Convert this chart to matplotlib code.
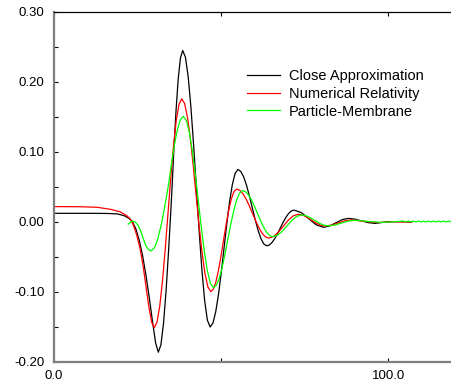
import matplotlib
matplotlib.use("Agg")
import matplotlib.pyplot as plt

plt.rcParams['font.family'] = ['Liberation Sans', 'DejaVu Sans']

# ---- data ----
close_x = [0, 10, 16, 19, 21, 22.5, 23.5, 24.5, 25.5, 26.5, 27.5, 28.5, 29.4, 30.4, 31.2,
           31.98, 32.76, 33.54, 34.32, 35.1, 35.78, 36.46, 37.14, 37.82, 38.5,
           39.32, 40.14, 40.96, 41.78, 42.6, 43.42, 44.24, 45.06, 45.88, 46.7,
           47.53, 48.36, 49.19, 50.02, 50.85, 51.68, 52.51, 53.34, 54.17, 55.0,
           55.86, 56.72, 57.58, 58.44, 59.3, 60.16, 61.02, 61.88, 62.74, 63.6,
           64.42, 65.24, 66.06, 66.88, 67.7, 68.52, 69.34, 70.16, 70.98, 71.8,
           74.0, 76.2, 78.4, 80.6, 82.45, 84.3, 86.15, 88.0, 90.0, 92.0, 94.0, 96.0,
           100.0, 104.0, 107.0]
close_y = [0.0124, 0.0124, 0.0122, 0.0115, 0.009, 0.005, 0.0, -0.010, -0.026, -0.048, -0.076, -0.108, -0.140, -0.173, -0.186,
           -0.1754, -0.1448, -0.0972, -0.0371, 0.0295, 0.0961, 0.1562, 0.2038, 0.2344, 0.245,
           0.2353, 0.2073, 0.1636, 0.1085, 0.0475, -0.0135, -0.0686, -0.1123, -0.1403, -0.150,
           -0.1445, -0.1285, -0.1037, -0.0723, -0.0375, -0.0027, 0.0287, 0.0535, 0.0695, 0.075,
           0.0723, 0.0646, 0.0525, 0.0373, 0.0205, 0.0037, -0.0115, -0.0236, -0.0313, -0.034,
           -0.0328, -0.0291, -0.0235, -0.0164, -0.0085, -0.0006, 0.0065, 0.0121, 0.0158, 0.017,
           0.0134, 0.0047, -0.004, -0.0076, -0.0057, -0.0012, 0.0033, 0.0052, 0.0041, 0.0016, -0.0009, -0.002,
           0.0005, 0.0005, 0.0]

numrel_x = [0, 8, 13, 17, 19.7, 21.5, 22.7, 23.7, 24.7, 25.7, 26.7, 27.6, 28.4, 29.2, 30.0,
            30.82, 31.64, 32.46, 33.28, 34.1, 34.92, 35.74, 36.56, 37.38, 38.2,
            39.06, 39.92, 40.78, 41.64, 42.5, 43.38, 44.26, 45.14, 46.02, 46.9,
            47.66, 48.42, 49.18, 49.94, 50.7, 51.48, 52.26, 53.04, 53.82, 54.6,
            55.56, 56.52, 57.48, 58.44, 59.4, 60.36, 61.32, 62.28, 63.24, 64.2,
            65.67, 67.13, 68.6, 70.07, 71.53, 73.0,
            74.33, 75.67, 77.0, 78.37, 79.73, 81.1,
            83.05, 85.0, 87.0, 89.0, 93.0, 97.0, 101.0, 104.0, 107.0]
numrel_y = [0.022, 0.0218, 0.021, 0.018, 0.0147, 0.010, 0.005, -0.004, -0.018, -0.037, -0.064, -0.095, -0.122, -0.143, -0.151,
            -0.143, -0.1198, -0.0836, -0.038, 0.0125, 0.0630, 0.1086, 0.1448, 0.168, 0.176,
            0.1693, 0.1497, 0.1193, 0.0809, 0.0383, -0.0043, -0.0427, -0.0732, -0.0927, -0.0995,
            -0.0959, -0.0855, -0.0693, -0.0489, -0.0263, -0.0037, 0.0168, 0.0330, 0.0434, 0.047,
            0.0453, 0.0403, 0.0326, 0.0228, 0.012, 0.0012, -0.0086, -0.0163, -0.0213, -0.023,
            -0.0207, -0.0145, -0.006, 0.0025, 0.0087, 0.011,
            0.0099, 0.0068, 0.0027, -0.0015, -0.0046, -0.0057,
            -0.0044, -0.0014, 0.0017, 0.003, 0.0008, -0.0008, 0.0003, 0.0, 0.0]

membrane_x = [22.2, 22.8, 23.5, 24.3, 25.2, 26.0, 26.8, 27.5, 28.2, 29.0,
              30.06, 31.12, 32.18, 33.24, 34.3, 35.18, 36.06, 36.94, 37.82, 38.7,
              39.6, 40.5, 41.4, 42.3, 43.2, 44.1, 45.0, 45.9, 46.8, 47.7,
              48.56, 49.42, 50.28, 51.14, 52.0, 52.88, 53.76, 54.64, 55.52, 56.4,
              57.3, 58.2, 59.1, 60.0, 60.9, 61.8, 62.7, 63.6, 64.5, 65.4,
              66.83, 68.27, 69.7, 71.13, 72.57, 74.0,
              75.33, 76.67, 78.0, 79.33, 80.67, 82.0,
              84.0, 86.0, 88.0, 90.0, 94.0, 98.0, 102.0,
              104.5, 105.25, 106.0, 106.75, 107.5, 108.25, 109.0, 109.75, 110.5, 111.25,
              112.0, 112.75, 113.5, 114.25, 115.0, 115.75, 116.5, 117.25, 118.0, 118.75]
membrane_y = [-0.003, -0.0005, 0.0014, 0.0, -0.005, -0.014, -0.025, -0.034, -0.039, -0.0414,
              -0.0367, -0.023, -0.0018, 0.0251, 0.0548, 0.0845, 0.1114, 0.1326, 0.1463, 0.151,
              0.145, 0.1276, 0.1006, 0.0664, 0.0286, -0.0092, -0.0434, -0.0704, -0.0878, -0.0938,
              -0.0904, -0.0806, -0.0652, -0.0459, -0.0245, -0.0031, 0.0162, 0.0316, 0.0414, 0.0448,
              0.0432, 0.0385, 0.0312, 0.0221, 0.0119, 0.0017, -0.0074, -0.0147, -0.0194, -0.021,
              -0.0189, -0.0133, -0.0055, 0.0023, 0.0079, 0.010,
              0.0090, 0.0061, 0.0023, -0.0016, -0.0045, -0.0055,
              -0.0043, -0.0015, 0.0013, 0.0025, 0.0008, -0.0006, 0.0004,
              0.0013, 0.0001, 0.0013, 0.0001, 0.0013, 0.0001, 0.0013, 0.0001, 0.0013, 0.0001,
              0.0013, 0.0001, 0.0013, 0.0001, 0.0013, 0.0001, 0.0013, 0.0001, 0.0013, 0.0001]

series_labels = ["Close Approximation", "Numerical Relativity", "Particle-Membrane"]
series_colors = ["#000000", "#ff0000", "#00ff00"]

x_ticks = [0, 50, 100]
x_tick_labels = ["0.0", "", "100.0"]
y_ticks = [-0.20, -0.10, 0.00, 0.10, 0.20, 0.30]
y_tick_labels = ["-0.20", "-0.10", "0.00", "0.10", "0.20", "0.30"]
y_minor = [-0.15, -0.05, 0.05, 0.15, 0.25]

W, H = 451, 382
fig = plt.figure(figsize=(W / 100, H / 100), dpi=100)
left, right, top, bottom = 54, 455.2, 12, 362
ax = fig.add_axes([left / W, (H - bottom) / H, (right - left) / W, (bottom - top) / H])

for xs, ys, lab, col in zip([close_x, numrel_x, membrane_x],
                            [close_y, numrel_y, membrane_y],
                            series_labels, series_colors):
    ax.plot(xs, ys, color=col, lw=0.9, label=lab)

ax.set_xlim(0, 120)
ax.set_ylim(-0.20, 0.30)
ax.set_xticks(x_ticks)
ax.set_xticklabels(x_tick_labels)
ax.set_yticks(y_ticks)
ax.set_yticklabels(y_tick_labels)
ax.set_yticks(y_minor, minor=True)

ax.tick_params(axis='both', which='both', direction='in', length=3, width=0.8,
               top=True, right=True, labelsize=9.5, colors='#000000')
ax.tick_params(axis='x', pad=6)
ax.tick_params(axis='y', pad=7)

for s in ['left', 'bottom']:
    ax.spines[s].set_color('#7f7f7f')
    ax.spines[s].set_linewidth(1.6)
for s in ['top', 'right']:
    ax.spines[s].set_color('#000000')
    ax.spines[s].set_linewidth(0.9)

leg = ax.legend(loc='upper left', bbox_to_anchor=(246.7 / W, 1 - 69 / H),
                bbox_transform=fig.transFigure, frameon=False, fontsize=10.5,
                borderpad=0, borderaxespad=0, handlelength=2.3,
                handletextpad=0.6, labelspacing=0.26)

fig.savefig("out.png", dpi=100)
